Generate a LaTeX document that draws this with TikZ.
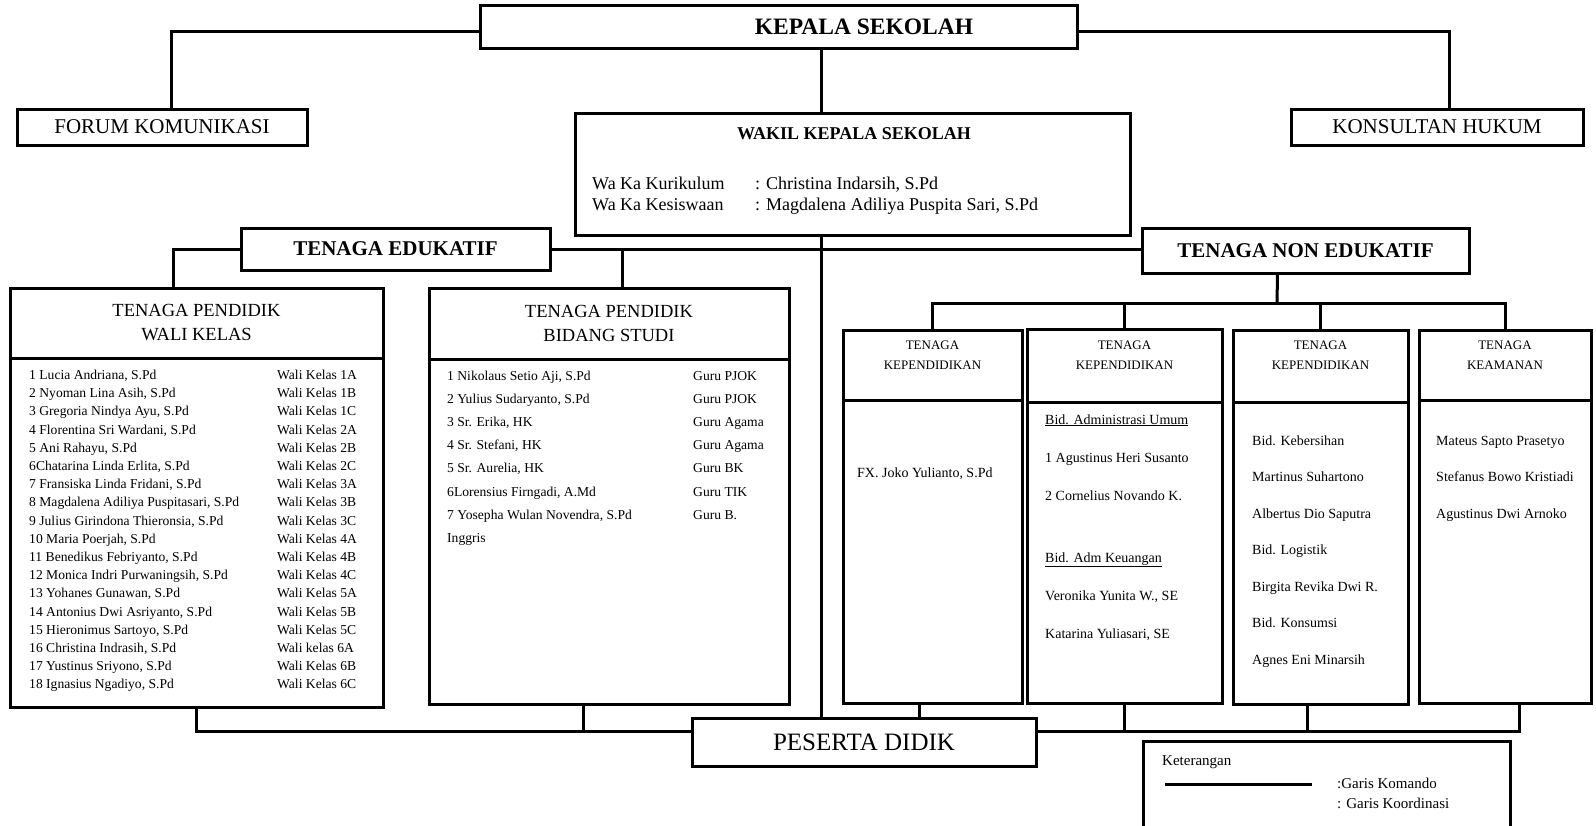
\documentclass[tikz,border=0pt]{standalone}
\usepackage{fontspec}
\setmainfont{Liberation Serif}

\begin{document}
\begin{tikzpicture}[
    x=1pt, y=-1pt,
    con/.style={line width=3pt, draw=black},
    box/.style={
        rectangle,
        draw=black,
        line width=3pt,
        inner sep=0pt,
        align=center,
      },
    big/.style={font=\fontsize{23.5}{28}\selectfont\bfseries},
    head/.style={font=\fontsize{21}{25}\selectfont\bfseries},
    unit/.style={font=\fontsize{21}{25}\selectfont},
    sub/.style={font=\fontsize{18.5}{24}\selectfont},
    wk/.style={font=\fontsize{18}{20.5}\selectfont, anchor=base west, inner sep=0pt},
    wkt/.style={font=\fontsize{18}{20}\selectfont\bfseries},
    lst/.style={font=\fontsize{13.6}{18.2}\selectfont, anchor=base west, inner sep=0pt},
    lsb/.style={font=\fontsize{13.6}{23.2}\selectfont, anchor=base west, inner sep=0pt},
    colh/.style={font=\fontsize{13}{20}\selectfont, align=center},
    col/.style={anchor=base west, inner sep=0pt},
    pd/.style={font=\fontsize{25}{30}\selectfont},
    leg/.style={font=\fontsize{15}{18}\selectfont, anchor=base west, inner sep=0pt},
  ]
  \useasboundingbox (0,0) rectangle (1596,825);
  \clip (0,0) rectangle (1596,825);

  \node[box, minimum width=597pt, minimum height=43pt] (kepala) at (778.5,26.5) {};
  \node[big] (kepalaT) at (864,27) {KEPALA SEKOLAH};
  \node[box, unit, minimum width=290pt, minimum height=36pt] (forum) at (162,127) {FORUM KOMUNIKASI};
  \node[box, unit, minimum width=292pt, minimum height=36pt] (hukum) at (1437,127) {KONSULTAN HUKUM};

  \node[box, minimum width=555pt, minimum height=122pt] (wakil) at (852.5,174) {};
  \node[wkt] (wakilT) at (854,134) {WAKIL KEPALA SEKOLAH};
  \node[wk] (wakilR) at (592,189.5) {\begin{tabular}[t]{@{}p{163pt}@{}l@{}}
      Wa Ka Kurikulum & : Christina Indarsih, S.Pd\\
      Wa Ka Kesiswaan & : Magdalena Adiliya Puspita Sari, S.Pd
    \end{tabular}};

  \node[box, head, minimum width=309pt, minimum height=42pt] (edu) at (395.5,249) {TENAGA EDUKATIF};
  \node[box, head, minimum width=327pt, minimum height=45pt] (nonedu) at (1305.5,250.5) {TENAGA NON EDUKATIF};

  \node[box, sub, minimum width=373pt, minimum height=70pt] (waliH) at (196.5,323) {TENAGA PENDIDIK\\WALI KELAS};
  \node[box, minimum width=373pt, minimum height=349pt] (waliB) at (196.5,532.5) {};
  \node[lst] (waliL) at (29,379.5) {\begin{tabular}[t]{@{}p{248pt}@{}l@{}}
      1 Lucia Andriana, S.Pd & Wali Kelas 1A\\
      2 Nyoman Lina Asih, S.Pd & Wali Kelas 1B\\
      3 Gregoria Nindya Ayu, S.Pd & Wali Kelas 1C\\
      4 Florentina Sri Wardani, S.Pd & Wali Kelas 2A\\
      5 Ani Rahayu, S.Pd & Wali Kelas 2B\\
      6Chatarina Linda Erlita, S.Pd & Wali Kelas 2C\\
      7 Fransiska Linda Fridani, S.Pd & Wali Kelas 3A\\
      8 Magdalena Adiliya Puspitasari, S.Pd & Wali Kelas 3B\\
      9 Julius Girindona Thieronsia, S.Pd & Wali Kelas 3C\\
      10 Maria Poerjah, S.Pd & Wali Kelas 4A\\
      11 Benedikus Febriyanto, S.Pd & Wali Kelas 4B\\
      12 Monica Indri Purwaningsih, S.Pd & Wali Kelas 4C\\
      13 Yohanes Gunawan, S.Pd & Wali Kelas 5A\\
      14 Antonius Dwi Asriyanto, S.Pd & Wali Kelas 5B\\
      15 Hieronimus Sartoyo, S.Pd & Wali Kelas 5C\\
      16 Christina Indrasih, S.Pd & Wali kelas 6A\\
      17 Yustinus Sriyono, S.Pd & Wali Kelas 6B\\
      18 Ignasius Ngadiyo, S.Pd & Wali Kelas 6C
    \end{tabular}};

  \node[box, sub, minimum width=360pt, minimum height=71pt] (bidH) at (609,323.5) {TENAGA PENDIDIK\\BIDANG STUDI};
  \node[box, minimum width=360pt, minimum height=345pt] (bidB) at (609,531.5) {};
  \node[lsb] (bidL) at (447,380) {\begin{tabular}[t]{@{}p{246pt}@{}l@{}}
      1 Nikolaus Setio Aji, S.Pd & Guru PJOK\\
      2 Yulius Sudaryanto, S.Pd & Guru PJOK\\
      3 Sr. Erika, HK & Guru Agama\\
      4 Sr. Stefani, HK & Guru Agama\\
      5 Sr. Aurelia, HK & Guru BK\\
      6Lorensius Firngadi, A.Md & Guru TIK\\
      7 Yosepha Wulan Novendra, S.Pd & Guru B.\\
      Inggris &
    \end{tabular}};

  \node[box, minimum width=179pt, minimum height=70pt] (c1h) at (932.5,365) {};
  \node[box, minimum width=179pt, minimum height=303pt] (c1b) at (932.5,551.5) {};
  \node[box, minimum width=195pt, minimum height=73pt] (c2h) at (1124.5,365.5) {};
  \node[box, minimum width=195pt, minimum height=301pt] (c2b) at (1124.5,552.5) {};
  \node[box, minimum width=175pt, minimum height=72pt] (c3h) at (1320.5,366) {};
  \node[box, minimum width=175pt, minimum height=302pt] (c3b) at (1320.5,553) {};
  \node[box, minimum width=172pt, minimum height=70pt] (c4h) at (1505,365) {};
  \node[box, minimum width=172pt, minimum height=303pt] (c4b) at (1505,551.5) {};

  \node[colh] (c1t) at (932.5,355) {TENAGA\\KEPENDIDIKAN};
  \node[colh] (c2t) at (1124.5,355) {TENAGA\\KEPENDIDIKAN};
  \node[colh] (c3t) at (1320.5,355) {TENAGA\\KEPENDIDIKAN};
  \node[colh] (c4t) at (1505,355) {TENAGA\\KEAMANAN};

  \node[col, font=\fontsize{14}{18}\selectfont] (c1l) at (857,477) {FX. Joko Yulianto, S.Pd};
  \node[col, font=\fontsize{14}{38}\selectfont] (c2l) at (1045,424) {\begin{tabular}[t]{@{}l@{}}
      \underline{Bid. Administrasi Umum}\\
      1 Agustinus Heri Susanto\\
      2 Cornelius Novando K.\\[24pt]
      \underline{Bid. Adm Keuangan}\\
      Veronika Yunita W., SE\\
      Katarina Yuliasari, SE
    \end{tabular}};
  \node[col, font=\fontsize{14}{36.5}\selectfont] (c3l) at (1252,445) {\begin{tabular}[t]{@{}l@{}}
      Bid. Kebersihan\\
      Martinus Suhartono\\
      Albertus Dio Saputra\\
      Bid. Logistik\\
      Birgita Revika Dwi R.\\
      Bid. Konsumsi\\
      Agnes Eni Minarsih
    \end{tabular}};
  \node[col, font=\fontsize{14}{36.5}\selectfont] (c4l) at (1436,445) {\begin{tabular}[t]{@{}l@{}}
      Mateus Sapto Prasetyo\\
      Stefanus Bowo Kristiadi\\
      Agustinus Dwi Arnoko
    \end{tabular}};

  \node[box, pd, minimum width=344pt, minimum height=48pt] (peserta) at (864,742) {PESERTA DIDIK};

  \node[box, minimum width=367pt, minimum height=110pt] (ket) at (1326.5,796) {};
  \node[leg] (ketT) at (1162,765) {Keterangan};
  \coordinate (g1) at (1165,784);
  \coordinate (g2) at (1312,784);
  \node[leg] (komando) at (1337,788) {:Garis Komando};
  \node[leg] (koord) at (1337,808) {: Garis Koordinasi};
  \draw[con] (g1) -- (g2);

  \coordinate (trunk) at (821,0);
  \coordinate (split) at (1277,303);
  \coordinate (bus) at (0,731);

  \draw[con] ([yshift=-5pt]kepala.west) -| ([xshift=9pt]forum.north);
  \draw[con] ([yshift=-5pt]kepala.east) -| ([xshift=12pt]hukum.north);
  \draw[con] (kepala.south -| trunk) -- (wakil.north -| trunk);
  \draw[con] (wakil.south -| trunk) -- (peserta.north -| trunk);

  \draw[con] (edu.east) -- (edu.east -| nonedu.west);
  \draw[con] (edu.west) -| ([xshift=-23.5pt]waliH.north);
  \draw[con] ([xshift=13pt]bidH.north) -- ([xshift=13pt]bidH.north |- edu.east);

  \draw[con] ([xshift=-28pt]nonedu.south) -- (split);
  \draw[con] (c1h.north) |- (split) -| (c4h.north);
  \draw[con] (c2h.north) -- (c2h.north |- split);
  \draw[con] (c3h.north) -- (c3h.north |- split);

  \draw[con] (waliB.south) |- (peserta.west |- bus);
  \draw[con] ([xshift=-26pt]bidB.south) -- ([xshift=-26pt]bidB.south |- bus);
  \draw[con] ([xshift=-13pt]c1b.south) -- ([xshift=-13pt]c1b.south |- peserta.north);
  \draw[con] (c2b.south) -- (c2b.south |- bus);
  \draw[con] ([xshift=-13pt]c3b.south) -- ([xshift=-13pt]c3b.south |- bus);
  \draw[con] (peserta.east |- bus) -| ([xshift=14pt]c4b.south);
\end{tikzpicture}
\end{document}
